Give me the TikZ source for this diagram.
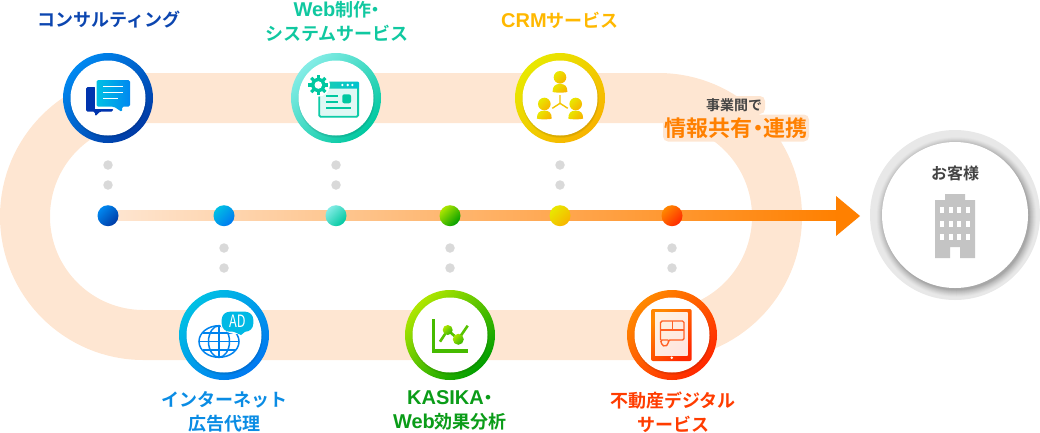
\documentclass[tikz,border=0pt]{standalone}
\usepackage{fontspec}
\setmainfont{Noto Sans CJK JP}[BoldFont={Noto Sans CJK JP Bold}]
\newfontfamily\paltf{Noto Sans CJK JP}[BoldFont={Noto Sans CJK JP Bold},RawFeature=+palt]
\newfontfamily\latf{Liberation Sans}
\newcommand{\lat}[1]{{\latf\fontsize{20}{24}\selectfont #1}}
\definecolor{band}{HTML}{FEE6D2}
\definecolor{dotgray}{HTML}{D9D9D9}
\definecolor{bluea}{HTML}{0088F0}\definecolor{blueb}{HTML}{003AA5}
\definecolor{cyana}{HTML}{00C0E4}\definecolor{cyanb}{HTML}{0078F0}
\definecolor{teala}{HTML}{84ECE6}\definecolor{tealb}{HTML}{00C8A0}
\definecolor{greena}{HTML}{AEE600}\definecolor{greenb}{HTML}{009E00}
\definecolor{yela}{HTML}{E8E800}\definecolor{yelb}{HTML}{F8B400}
\definecolor{reda}{HTML}{FF8800}\definecolor{redb}{HTML}{FF2800}
\definecolor{txblue}{HTML}{0C46B0}\definecolor{txteal}{HTML}{10C8A0}
\definecolor{txyel}{HTML}{FFB800}\definecolor{txcyan}{HTML}{0A8CE4}
\definecolor{txgreen}{HTML}{0A9C18}\definecolor{txred}{HTML}{FF3C00}
\definecolor{txgray}{HTML}{444444}\definecolor{txor}{HTML}{FF8000}
\definecolor{bldg}{HTML}{C4C4C4}
\tikzset{
 x=1pt,y=-1pt,
 grad/.style n args={2}{top color=#1,bottom color=#2,shading angle=45},
 lbl/.style={font=\bfseries\fontsize{18}{24}\selectfont,align=center,inner sep=0pt},
 stub/.style={circle,fill=dotgray,minimum size=9.5pt,inner sep=0pt},
 sdot/.style={circle,minimum size=21pt,inner sep=0pt},
 ringo/.style={circle,minimum size=90pt,inner sep=0pt},
 ringi/.style={circle,fill=white,minimum size=75pt,inner sep=0pt},
 halo/.style={fill=band,rounded corners=5pt},
}
\newcommand{\ringnode}[5]{%
 \node[ringo,grad={#4}{#5}] (#1) at (#2,#3) {};
 \foreach \rr in {37.5,38,38.5}{\fill[black,opacity=.035] (#2+.5,#3+1.5) circle (\rr pt);}
 \node[ringi] (#1i) at (#2,#3) {};
}
\newcommand{\person}[2]{%
 \shade[grad={yela}{yelb}] (#1,#2) circle (6.3pt);
 \shade[grad={yela}{yelb}] (#1-7.4,#2+14.5) .. controls (#1-7.4,#2+9) and (#1-5,#2+6.6) .. (#1,#2+6.6) .. controls (#1+5,#2+6.6) and (#1+7.4,#2+9) .. (#1+7.4,#2+14.5) .. controls (#1+6,#2+15.6) and (#1-6,#2+15.6) .. cycle;
}
\begin{document}
\begin{tikzpicture}
\useasboundingbox (0,0) rectangle (1040,432);
% track
\draw[band,line width=50pt] (143.5,98) -- (658.5,98) arc[start angle=90,end angle=-90,radius=118.5pt] -- (143.5,335) arc[start angle=-90,end angle=-270,radius=118.5pt] -- cycle;
% spine
\shade[left color=band,right color=txor] (108,210.7) rectangle (838,220.5);
\coordinate (tip) at (860,216);
\fill[txor] (836,196) -- (tip) -- (836,236) -- cycle;
% stubs
\foreach \n/\xx in {a/108,b/336,c/560}{
 \node[stub] (\n1) at (\xx,165) {};
 \node[stub] (\n2) at (\xx,185) {};}
\foreach \n/\xx in {d/224,e/450,f/672}{
 \node[stub] (\n1) at (\xx,248) {};
 \node[stub] (\n2) at (\xx,268) {};}
% spine dots
\node[sdot,grad={bluea}{blueb}] (s1) at (108,215.7) {};
\node[sdot,grad={cyana}{cyanb}] (s2) at (224,215.7) {};
\node[sdot,grad={teala}{tealb}] (s3) at (336,215.7) {};
\node[sdot,grad={greena}{greenb}] (s4) at (450,215.7) {};
\node[sdot,grad={yela}{yelb}] (s5) at (560,215.7) {};
\node[sdot,grad={reda}{redb}] (s6) at (672,215.7) {};
% rings
\ringnode{r1}{108}{98}{bluea}{blueb}
\ringnode{r2}{336}{98}{teala}{tealb}
\ringnode{r3}{560}{98}{yela}{yelb}
\ringnode{r4}{224}{335}{cyana}{cyanb}
\ringnode{r5}{450}{335}{greena}{greenb}
\ringnode{r6}{672}{335}{reda}{redb}
% consulting icon
\fill[blueb!90!blue,rounded corners=1.5pt] (86,87) -- (96,87) -- (96,108) -- (113,108) -- (113,111.5) -- (100,111.5) -- (95,116.5) -- (95,111.5) -- (86,111.5) -- cycle;
\path[fill=white] (94.5,78.5) rectangle (131,108.5);
\shade[left color=cyana,right color=bluea,rounded corners=1.5pt] (96.7,80) -- (130,80) -- (130,106.7) -- (122,106.7) -- (122,112) -- (114,106.7) -- (96.7,106.7) -- cycle;
\draw[white,line width=1.3pt] (103,86.7) -- (123,86.7) (103,92.5) -- (123,92.5) (103,98.8) -- (118,98.8);
% web icon
\fill[white!88!tealb,rounded corners=1.5pt] (318.3,81.7) rectangle (359,117.7);
\draw[tealb!90!teala,line width=1.8pt,rounded corners=1.5pt] (319.2,88) -- (319.2,116.8) -- (358.1,116.8) -- (358.1,88);
\shade[left color=tealb!80!teala,right color=cyana!70!tealb,rounded corners=1pt] (318.3,81.7) rectangle (359,88.5);
\foreach \xx in {342.3,347.7,352.3}{\fill[white] (\xx,85) circle (1.3pt);}
\fill[tealb,rounded corners=2pt] (342.3,94.3) rectangle (351,103.3);
\draw[tealb,line width=1.8pt] (326,96) -- (338.3,96) (326,101.7) -- (338.3,101.7) (326,108.3) -- (351,108.3);
\fill[white] (318.3,85) circle (11.7pt);
\foreach \a in {0,45,...,315}{\draw[tealb,line width=3.2pt] (318.3,85) -- ++(\a:10pt);}
\fill[tealb] (318.3,85) circle (7.2pt);
\fill[white] (318.3,85) circle (3.8pt);
% crm icon
\person{560}{77.3}
\person{544.3}{104}
\person{575.7}{104}
\draw[yelb!70!yela,line width=1.4pt] (560,95) -- (560,103.3) (552.3,108.3) -- (560,103.3) -- (567.7,108.3);
% internet icon
\begin{scope}[draw=cyanb!85!cyana,line width=1.5pt]
\draw (219,341.5) ellipse (20pt and 15.8pt);
\draw (219,341.5) ellipse (10.5pt and 15.8pt);
\draw (219,325.7) -- (219,357.3) (199,341.5) -- (239,341.5);
\draw (202.5,333) -- (235.5,333) (202.5,350) -- (235.5,350);
\end{scope}
\fill[white] (237.5,321.7) ellipse (18pt and 12.5pt);
\fill[cyana!90!cyanb,rounded corners=8pt] (221.7,311.7) rectangle (253.3,331.7);
\fill[cyana!90!cyanb] (232,331) -- (241,335) -- (246,331) -- cycle;
\node[inner sep=0pt,font=\fontsize{17}{17}\selectfont,text=white,xscale=.75] (ad) at (237.3,321) {AD};
% kasika icon
\draw[greenb!60!greena,line width=3.6pt] (433.5,319.3) -- (433.5,350.8) -- (468,350.8);
\draw[greenb!50!greena,line width=2.6pt] (440,341.7) -- (447.7,330) -- (458.3,339.3) -- (467.7,325.7);
\shade[grad={greena}{greenb!70!greena}] (447.7,330) circle (5pt);
\shade[grad={greena}{greenb!70!greena}] (458.3,339.3) circle (5.5pt);
% fudosan icon
\shade[grad={reda}{redb},rounded corners=2pt] (651,309) rectangle (691.7,361);
\shade[top color=white!88!reda,bottom color=white!88!redb,shading angle=45] (655,312.7) rectangle (687.7,355);
\fill[white] (671.7,357.8) circle (1.4pt);
\draw[redb!70!reda!85!white,line width=1.4pt,rounded corners=1.5pt] (660.5,340) -- (660.5,321) -- (684,321) -- (684,340) -- (668.3,340) -- (668.3,344) -- (665,346.5) -- (662,345) -- (660.5,340) -- (668.3,340);
\draw[redb!70!reda!85!white,line width=1.4pt] (660.5,330) -- (684,330) (672.5,321) -- (672.5,330);
% labels
\node[lbl,text=txblue] (l1) at (109,20) {コンサルティング};
\node[lbl,text=txteal] (l2) at (337,21) {\lat{Web}制作{\paltf ・}\\システムサービス};
\node[lbl,text=txyel] (l3) at (560,20) {\lat{CRM}サービス};
\node[lbl,text=txcyan] (l4) at (224,412) {インターネット\\広告代理};
\node[lbl,text=txgreen] (l5) at (450,410.5) {\lat{KASIKA}{\paltf ・}\\\lat{Web}効果分析};
\node[lbl,text=txred] (l6) at (673,412) {不動産デジタル\\サービス};
% caption with halo
\node[halo,minimum width=146pt,minimum height=27pt] (hb) at (736,128) {};
\node[halo,minimum width=62pt,minimum height=18pt] (ha) at (734,105) {};
\node[inner sep=0pt,font=\bfseries\fontsize{14}{14}\selectfont,text=txgray] (c1) at (734,105) {事業間で};
\node[inner sep=0pt,font=\bfseries\paltf\fontsize{22}{22}\selectfont,text=txor] (c2) at (736,128) {情報共有・連携};
% customer
\node[circle,fill=black!9,minimum size=170pt,inner sep=0pt] (cust) at (955,215) {};
\foreach \rr/\op in {80/.012,79.5/.012,79/.012,78.5/.014,78/.014,77.5/.016,77/.016,76.5/.018,76/.02,75.5/.02,75/.022,74.5/.024,74/.026,73.5/.028,73/.03}{\fill[black,opacity=\op] (956.5,217) circle (\rr pt);}
\node[circle,fill=white,minimum size=146pt,inner sep=0pt] (custi) at (955,215) {};
\node[inner sep=0pt,font=\bfseries\fontsize{16}{16}\selectfont,text=txgray] (cl) at (955,173) {お客様};
\fill[bldg] (935,258) -- (935,200) -- (945,200) -- (945,194) -- (965,194) -- (965,200) -- (975,200) -- (975,258) -- (960,258) -- (960,247) -- (950,247) -- (950,258) -- cycle;
\foreach \yy in {207.3,221,234.3}{\foreach \xx in {940,948.7,957.2,965.6}{\fill[white] (\xx,\yy) rectangle (\xx+4.2,\yy+6);}}
\end{tikzpicture}
\end{document}
